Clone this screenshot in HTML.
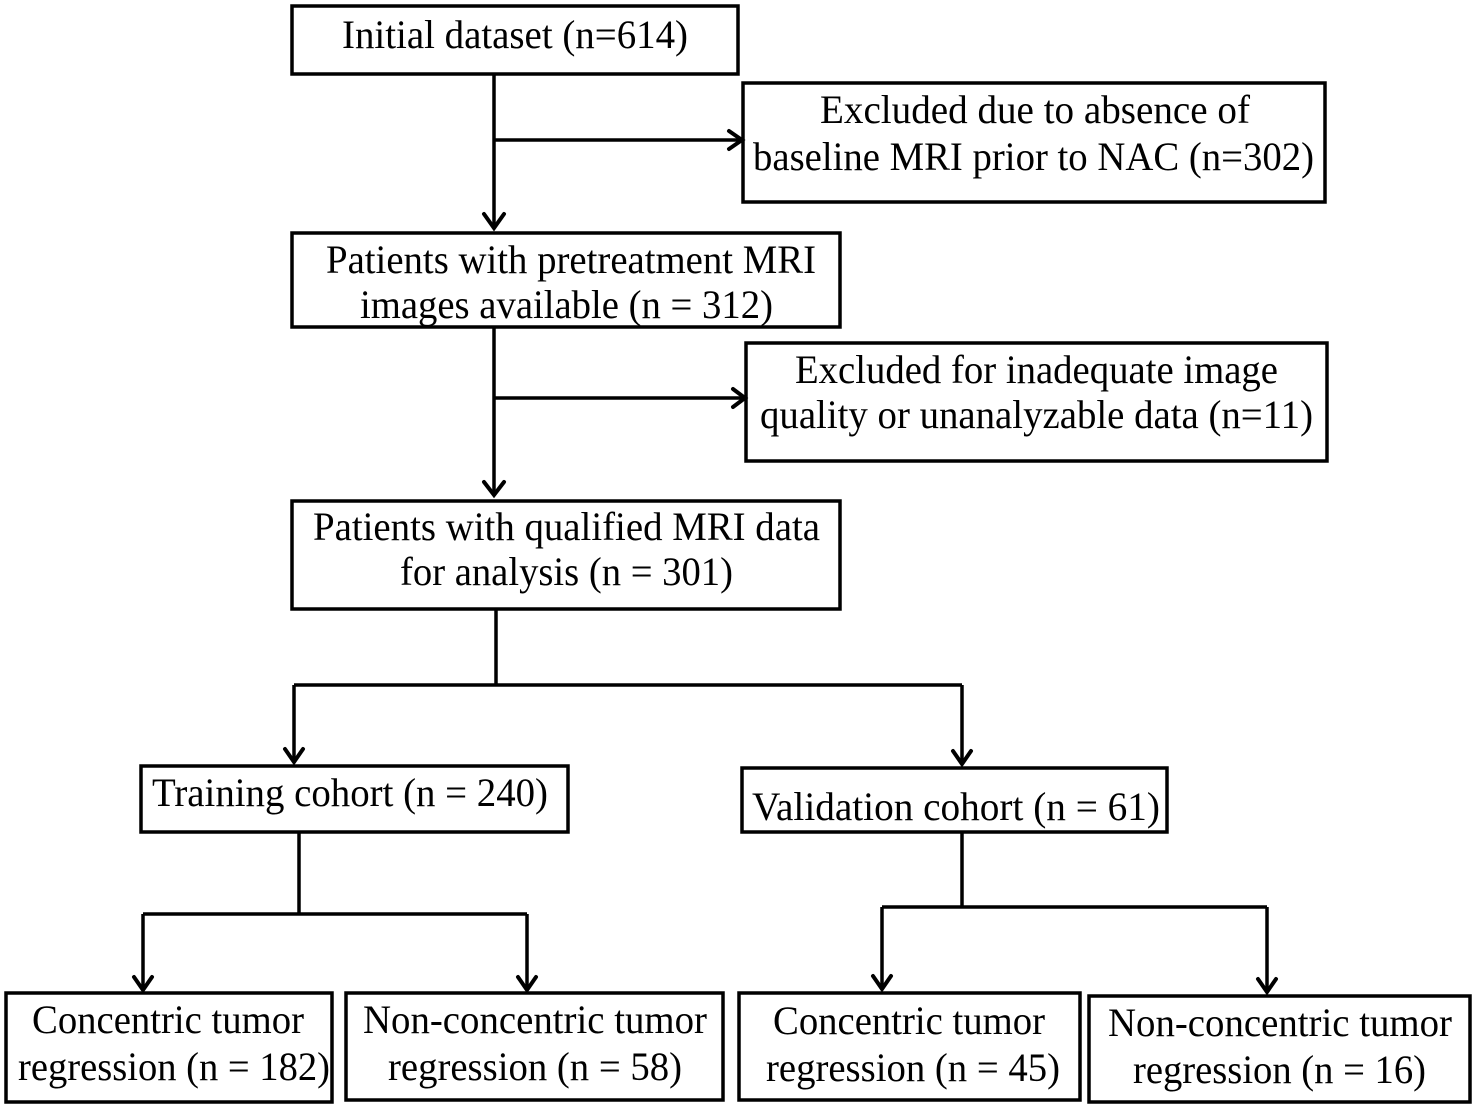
<!DOCTYPE html>
<html><head><meta charset="utf-8"><style>html,body{margin:0;padding:0;background:#fff}svg{display:block}</style></head>
<body>
<svg width="1476" height="1106" viewBox="0 0 1476 1106" xmlns="http://www.w3.org/2000/svg">
<g fill="#fff" stroke="#000" stroke-width="3.5">
<rect x="292" y="6" width="446" height="68"/>
<rect x="743" y="83" width="582" height="119"/>
<rect x="292" y="233" width="548" height="94"/>
<rect x="746" y="343" width="581" height="118"/>
<rect x="292" y="501" width="548" height="108"/>
<rect x="141" y="766" width="427" height="66"/>
<rect x="742" y="768" width="425" height="64"/>
<rect x="6" y="993" width="326" height="109"/>
<rect x="346" y="993" width="377" height="107"/>
<rect x="739" y="993" width="341" height="107"/>
<rect x="1089" y="996" width="381" height="106"/>
</g>
<g fill="none" stroke="#000" stroke-width="3.5" stroke-linejoin="miter">
<path d="M494 74V226M494 140H740"/>
<path d="M494 327V493M494 398H743"/>
<path d="M496 609V685M294 685H962M294 685V760M962 685V762"/>
<path d="M299 832V914M143 914H527M143 914V988M527 914V988"/>
<path d="M962 832V907M882 907H1267M882 907V987M1267 907V990"/>
</g>
<g fill="none" stroke="#000" stroke-width="4" stroke-linecap="round">
<path d="M484 214L494 228L504 214"/>
<path d="M729 131L742 140L729 149"/>
<path d="M484 482L494 495L504 482"/>
<path d="M733 389L745 398L733 407"/>
<path d="M285 749L294 762L303 749"/>
<path d="M953 751L962 764L971 751"/>
<path d="M134 977L143 990L152 977"/>
<path d="M518 977L527 990L536 977"/>
<path d="M873 976L882 989L891 976"/>
<path d="M1258 979L1267 992L1276 979"/>
</g>
<g font-family="Liberation Serif, serif" font-size="40" fill="#000">
<text x="342" y="48" textLength="346" lengthAdjust="spacingAndGlyphs">Initial dataset (n=614)</text>
<text x="820" y="123" textLength="430" lengthAdjust="spacingAndGlyphs">Excluded due to absence of</text>
<text x="753" y="170" textLength="561" lengthAdjust="spacingAndGlyphs">baseline MRI prior to NAC (n=302)</text>
<text x="326" y="273" textLength="490" lengthAdjust="spacingAndGlyphs">Patients with pretreatment MRI</text>
<text x="360" y="318" textLength="413" lengthAdjust="spacingAndGlyphs">images available (n = 312)</text>
<text x="795" y="383" textLength="483" lengthAdjust="spacingAndGlyphs">Excluded for inadequate image</text>
<text x="760" y="428" textLength="553" lengthAdjust="spacingAndGlyphs">quality or unanalyzable data (n=11)</text>
<text x="313" y="540" textLength="507" lengthAdjust="spacingAndGlyphs">Patients with qualified MRI data</text>
<text x="400" y="585" textLength="333" lengthAdjust="spacingAndGlyphs">for analysis (n = 301)</text>
<text x="152" y="806" textLength="396" lengthAdjust="spacingAndGlyphs">Training cohort (n = 240)</text>
<text x="752" y="820" textLength="408" lengthAdjust="spacingAndGlyphs">Validation cohort (n = 61)</text>
<text x="32" y="1033" textLength="272" lengthAdjust="spacingAndGlyphs">Concentric tumor</text>
<text x="18" y="1080" textLength="312" lengthAdjust="spacingAndGlyphs">regression (n = 182)</text>
<text x="363" y="1033" textLength="344" lengthAdjust="spacingAndGlyphs">Non-concentric tumor</text>
<text x="388" y="1080" textLength="294" lengthAdjust="spacingAndGlyphs">regression (n = 58)</text>
<text x="773" y="1034" textLength="272" lengthAdjust="spacingAndGlyphs">Concentric tumor</text>
<text x="766" y="1081" textLength="294" lengthAdjust="spacingAndGlyphs">regression (n = 45)</text>
<text x="1108" y="1036" textLength="344" lengthAdjust="spacingAndGlyphs">Non-concentric tumor</text>
<text x="1133" y="1083" textLength="293" lengthAdjust="spacingAndGlyphs">regression (n = 16)</text>
</g>
</svg>
</body></html>
